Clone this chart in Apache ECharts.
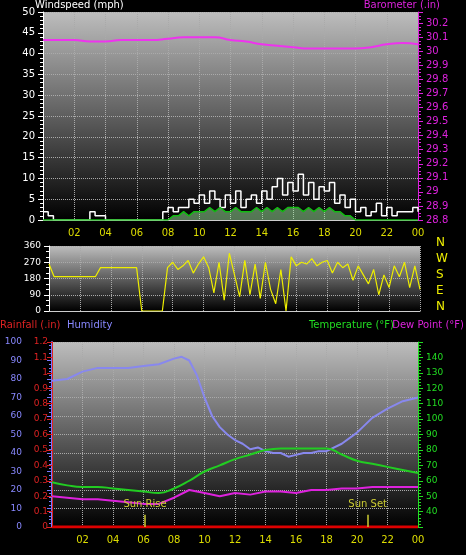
<!DOCTYPE html><html><head><meta charset="utf-8">
<script src="https://cdn.jsdelivr.net/npm/echarts@6/dist/echarts.min.js"></script>
<style>html,body{margin:0;background:#000}#c{width:466px;height:555px}</style></head><body><div id="c"></div><script>
// ---- data ----
const baroHours=[0,1,2,3,4,5,6,7,8,9,10,11,12,13,14,15,16,17,18,19,20,21,22,23,24];
const barometer=[30.08,30.08,30.08,30.07,30.07,30.08,30.08,30.08,30.09,30.1,30.1,30.1,30.08,30.07,30.05,30.04,30.03,30.02,30.02,30.02,30.02,30.03,30.05,30.06,30.05];
const windGust=[2,1,0, 0,0,0, 0,0,0, 2,1,1, 0,0,0, 0,0,0, 0,0,0, 0,0,2, 3,2,3, 3,5,4, 6,4,7, 5,3,6, 4,7,3, 5,6,4, 7,5,8, 10,6,9, 7,11,6, 9,5,8, 7,9,4, 6,3,5, 2,3,1, 2,4,1, 3,1,2, 2,2,3, 2];
const windAvg=[0,0,0, 0,0,0, 0,0,0, 0,0,0, 0,0,0, 0,0,0, 0,0,0, 0,0,0, 0,1,1, 2,1,2, 2,2,3, 2,3,2, 2,3,2, 2,2,3, 2,3,2, 3,2,3, 3,3,2, 3,2,3, 2,3,2, 2,1,1, 0,0,0, 0,0,0, 0,0,0, 0,0,0, 0];
const windDir=[260,190,190, 190,190,190, 190,190,190, 190,240,240, 240,240,240, 240,240,240, 0,0,0, 0,0,240, 270,230,250, 280,210,260, 300,240,100, 270,60,320, 200,80,280, 90,260,70, 270,120,40, 230,0,300, 250,270,260, 290,250,270, 280,210,270, 240,260,170, 250,200,150, 230,90,200, 130,250,190, 270,130,250, 120];
const humHours=[0,1,2,3,4,5,6,7,8,8.5,9,9.5,10,10.5,11,11.5,12,12.5,13,13.5,14,14.5,15,15.5,16,16.5,17,17.5,18,19,20,21,22,23,24];
const humidity=[79,80,84,86,86,86,87,88,91,92,90,82,70,60,54,50,47,45,42,43,41,40,40,38,39,40,40,41,41,45,51,59,64,68,70];
const tdHours=[0,1,2,3,4,5,6,7,8,9,10,11,12,13,14,15,16,17,18,19,20,21,22,23,24];
const temperature=[59,57,56,56,55,54,53,52,55,60,66,70,74,77,80,81,81,81,81,77,73,71,69,67,65];
const dewPoint=[50,49,48,48,47,46,45,45,49,54,52,50,52,51,53,53,52,54,54,55,55,56,56,56,56];
const rainfall=[0,0];
const sunEvents=[['Sun Rise',6.1],['Sun Set',20.7]];
// ---- build ----
const t20=i=>i/3;
const pair=(xs,ys)=>ys.map((v,i)=>[xs[i],v]);
const gust=windGust.map((v,i)=>[t20(i),v]), avg=windAvg.map((v,i)=>[t20(i),v]), dir=windDir.map((v,i)=>[t20(i),v]);
const bg={type:'linear',x:0,y:0,x2:0,y2:1,colorStops:[{offset:0,color:'#bdbdbd'},{offset:1,color:'#000'}]};
const gridLine={show:true,lineStyle:{color:'#aaa',type:'dotted',width:1}};
function xa(i,show){return {type:'value',gridIndex:i,min:0,max:24,interval:2,splitLine:gridLine,
 axisLine:{show:true,lineStyle:{color:'#ccc'}},axisTick:{show:false},
 axisLabel:{show:show,color:'#dd0',fontSize:10,fontFamily:'DejaVu Sans',formatter:v=>v===0?'':String(v%24).padStart(2,'0')}};}
const c=echarts.init(document.getElementById('c'));
c.setOption({backgroundColor:'#000',animation:false,
grid:[{left:43,right:48,top:12,height:208,show:true,backgroundColor:bg,borderWidth:0},
 {left:49,right:46,top:246,height:65,show:true,backgroundColor:bg,borderWidth:0},
 {left:52,right:48,top:342,height:185,show:true,backgroundColor:bg,borderWidth:0}],
xAxis:[xa(0,true),xa(1,false),xa(2,true)],
yAxis:[
 {type:'value',gridIndex:0,position:'left',min:0,max:50,interval:5,splitLine:gridLine,axisLine:{show:true,lineStyle:{color:'#fff'}},axisTick:{show:true,lineStyle:{color:'#fff'}},minorTick:{show:true,splitNumber:5,lineStyle:{color:'#fff'}},axisLabel:{color:'#fff',fontSize:10,fontFamily:'DejaVu Sans'}},
 {type:'value',gridIndex:0,position:'right',min:28.8,max:30.28,interval:0.1,splitLine:{show:false},axisLine:{show:true,lineStyle:{color:'#d2d'}},axisTick:{show:true},minorTick:{show:true,splitNumber:4,lineStyle:{color:'#d2d'}},axisLabel:{color:'#d2d',fontSize:10,fontFamily:'DejaVu Sans',showMaxLabel:false,formatter:v=>String(+v.toFixed(1))}},
 {type:'value',gridIndex:1,position:'left',min:0,max:360,interval:90,splitLine:gridLine,axisLine:{show:true,lineStyle:{color:'#fff'}},axisTick:{show:true},minorTick:{show:true,splitNumber:3,lineStyle:{color:'#fff'}},axisLabel:{color:'#fff',fontSize:9,fontFamily:'DejaVu Sans'}},
 {type:'value',gridIndex:2,position:'left',min:0,max:100,interval:10,offset:22,splitLine:gridLine,axisLine:{show:true,lineStyle:{color:'#77f',width:2}},axisTick:{show:true},minorTick:{show:true,splitNumber:5,lineStyle:{color:'#77f'}},axisLabel:{color:'#88f',fontSize:9,fontFamily:'DejaVu Sans'}},
 {type:'value',gridIndex:2,position:'left',offset:0,min:0,max:1.2,interval:0.1,splitLine:{show:false},axisLine:{show:true,lineStyle:{color:'#d22'}},axisTick:{show:true},axisLabel:{color:'#d22',fontSize:9,fontFamily:'DejaVu Sans',margin:4,formatter:v=>String(+v.toFixed(1))}},
 {type:'value',gridIndex:2,position:'right',min:30,max:150,interval:10,splitLine:{show:false},axisLine:{show:true,lineStyle:{color:'#2d2'}},axisTick:{show:true},minorTick:{show:true,splitNumber:5,lineStyle:{color:'#2d2'}},axisLabel:{color:'#2d2',fontSize:9,fontFamily:'DejaVu Sans',formatter:v=>(v<40||v>140)?'':v}}],
series:[
 {type:'line',xAxisIndex:0,yAxisIndex:1,data:pair(baroHours,barometer),smooth:true,symbol:'none',lineStyle:{color:'#e3e',width:2}},
 {type:'line',xAxisIndex:0,yAxisIndex:0,data:gust,step:'end',symbol:'none',lineStyle:{color:'#fff',width:1.5}},
 {type:'line',xAxisIndex:0,yAxisIndex:0,data:avg,symbol:'none',lineStyle:{color:'#1b1',width:1.5},areaStyle:{color:'rgba(170,240,170,0.7)'}},
 {type:'line',xAxisIndex:1,yAxisIndex:2,data:dir,symbol:'none',lineStyle:{color:'#ee0',width:1.2}},
 {type:'line',xAxisIndex:2,yAxisIndex:3,data:pair(humHours,humidity),symbol:'none',lineStyle:{color:'#88e',width:2}},
 {type:'line',xAxisIndex:2,yAxisIndex:5,data:pair(tdHours,temperature),smooth:true,symbol:'none',lineStyle:{color:'#2c2',width:2}},
 {type:'line',xAxisIndex:2,yAxisIndex:5,data:pair(tdHours,dewPoint),symbol:'none',lineStyle:{color:'#d2d',width:2}},
 {type:'line',xAxisIndex:2,yAxisIndex:4,data:pair([0,24],rainfall),symbol:'none',lineStyle:{color:'#d00',width:3},
  markLine:{symbol:'none',silent:true,lineStyle:{color:'#cc3',width:1.5,type:'solid'},
   label:{position:'end',color:'#cc3',fontSize:10,fontFamily:'DejaVu Sans',formatter:p=>p.data.name||''},
   data:sunEvents.map(s=>[{coord:[s[1],0],name:s[0]},{coord:[s[1],0.08]}])}}
],
graphic:[
 {type:'text',left:35,top:0,style:{text:'Windspeed (mph)',fill:'#fff',font:'10px DejaVu Sans'}},
 {type:'text',right:26,top:0,style:{text:'Barometer (.in)',fill:'#d2d',font:'10px DejaVu Sans'}},
 ...['N','W','S','E','N'].map((l,i)=>({type:'text',left:436,top:237+i*16,style:{text:l,fill:'#ee0',font:'12px DejaVu Sans'}})),
 {type:'text',left:0,top:320,style:{text:'Rainfall (.in)',fill:'#d22',font:'10px DejaVu Sans'}},
 {type:'text',left:67,top:320,style:{text:'Humidity',fill:'#88f',font:'10px DejaVu Sans'}},
 {type:'text',right:72,top:320,style:{text:'Temperature (°F)',fill:'#2d2',font:'10px DejaVu Sans'}},
 {type:'text',right:2,top:320,style:{text:'Dew Point (°F)',fill:'#d2d',font:'10px DejaVu Sans'}}
]});
</script></body></html>
